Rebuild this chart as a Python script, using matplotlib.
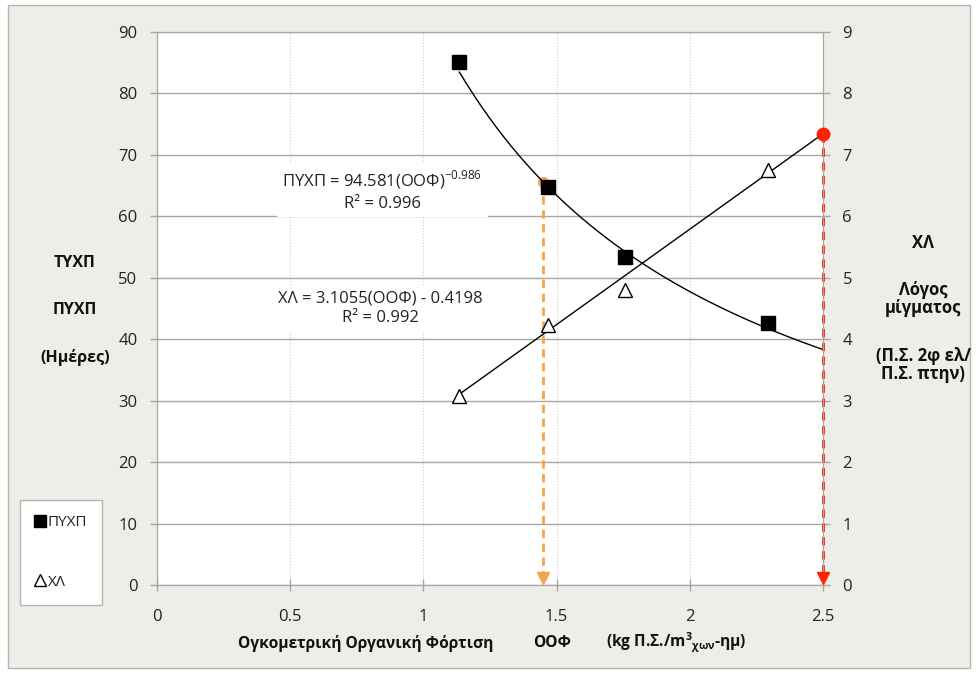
import numpy as np
import matplotlib
matplotlib.use("Agg")
import matplotlib.pyplot as plt
from matplotlib.lines import Line2D
from matplotlib.patches import Rectangle

plt.rcParams['font.family'] = ['Open Sans', 'DejaVu Sans']
plt.rcParams['mathtext.fontset'] = 'custom'
plt.rcParams['mathtext.rm'] = 'Open Sans'
plt.rcParams['mathtext.bf'] = 'Open Sans:bold'

# --- data ---
oof = [1.135, 1.467, 1.757, 2.295]          # ΟΟΦ (kg Π.Σ./m3-ημ)
pyxp = [85.1, 64.8, 53.4, 42.6]             # ΠΥΧΠ (ημέρες), left axis
xl = [3.08, 4.23, 4.80, 6.75]               # ΧΛ, right axis

# trendline coefficients (as printed on the chart)
pow_a, pow_b = 94.581, -0.986
lin_a, lin_b = 3.1055, -0.4198
fit_x0, fit_x1 = 1.135, 2.5

# guide lines
guide_orange_x = 1.45
guide_red_x = 2.5

xticks = [0, 0.5, 1, 1.5, 2, 2.5]
yticks_left = list(range(0, 100, 10))
yticks_right = list(range(0, 10))

grey = '#a6a6a6'
bg = '#eeede7'
txt = '#222222'

fig = plt.figure(figsize=(9.76, 6.74), dpi=100, facecolor='white')
fig.patches.append(Rectangle((8 / 976, 1 - 668 / 674), 962 / 976, 663 / 674,
                             transform=fig.transFigure, facecolor=bg,
                             edgecolor='#b5b5b5', lw=1, zorder=-10))

ax = fig.add_axes([157 / 976, 1 - 585 / 674, 666 / 976, 553 / 674])
ax.set_facecolor('white')
ax.set_xlim(0, 2.5)
ax.set_ylim(0, 90)
ax.set_xticks(xticks)
ax.set_xticklabels(['0', '0.5', '1', '1.5', '2', '2.5'])
ax.set_yticks(yticks_left)
for s in ax.spines.values():
    s.set_color(grey)
ax.tick_params(colors=grey, labelcolor=txt, labelsize=12, length=5, width=1, pad=9)
ax.tick_params(axis='x', direction='inout', length=8, pad=13)
ax.grid(axis='y', color=grey, lw=1, ls='-')
ax.grid(axis='x', color='#cccccc', lw=0.8, ls=':')
ax.set_axisbelow(True)

ax2 = ax.twinx()
ax2.set_ylim(0, 9)
ax2.set_yticks(yticks_right)
for s in ax2.spines.values():
    s.set_color(grey)
ax2.tick_params(colors=grey, labelcolor=txt, labelsize=12, length=5, width=1, pad=9)

# trendlines
xf = np.linspace(fit_x0, fit_x1, 200)
ax.plot(xf, pow_a * xf ** pow_b, color='black', lw=1, zorder=3)
ax2.plot(xf, lin_a * xf + lin_b, color='black', lw=1, zorder=3)

# guide lines
yo = pow_a * guide_orange_x ** pow_b
ax.plot([guide_orange_x, guide_orange_x], [yo, 1.2], color='#f7a24c', lw=2,
        ls=(0, (3, 2)), zorder=2)
ax.plot([guide_orange_x], [yo], 'o', color='#f7a24c', ms=7, zorder=2)
ax.plot([guide_orange_x], [1.2], 'v', color='#f7a24c', ms=8, zorder=2)

yr = lin_a * guide_red_x + lin_b
ax2.plot([guide_red_x, guide_red_x], [yr, 0.12], color='#ff2200', lw=2,
         ls=(0, (3, 2)), zorder=2, clip_on=False)
ax2.plot([guide_red_x], [yr], 'o', color='#ff2200', ms=9, zorder=6, clip_on=False)
ax2.plot([guide_red_x], [0.12], 'v', color='#ff2200', ms=8, zorder=6, clip_on=False)

# data points
ax.plot(oof, pyxp, 's', color='black', ms=10, zorder=5, ls='none')
ax2.plot(oof, xl, '^', mfc='white', mec='black', mew=1, ms=10, zorder=5, ls='none')

# equation labels
box = dict(facecolor='white', edgecolor='none', pad=4)
ax.text(0.845, 64.3, 'ΠΥΧΠ = 94.581(ΟΟΦ)$^{\\mathregular{-0.986}}$\nR² = 0.996',
        ha='center', va='center', fontsize=12, linespacing=1.4, bbox=box,
        zorder=4, color=txt)
ax.text(0.84, 45.0, 'ΧΛ = 3.1055(ΟΟΦ) - 0.4198\nR² = 0.992', ha='center',
        va='center', fontsize=12, linespacing=1.3, bbox=box, zorder=4, color=txt)

# axis titles
lk = dict(ha='center', va='center', fontweight='bold', color='#111111')
fig.text(75 / 976, 1 - 263 / 674, 'ΤΥΧΠ', fontsize=11.5, **lk)
fig.text(75 / 976, 1 - 310 / 674, 'ΠΥΧΠ', fontsize=11.5, **lk)
fig.text(75 / 976, 1 - 358 / 674, '(Ημέρες)', fontsize=11.5, **lk)
fig.text(923 / 976, 1 - 243 / 674, 'ΧΛ', fontsize=12, **lk)
fig.text(923 / 976, 1 - 299 / 674, 'Λόγος\nμίγματος', linespacing=1.05, fontsize=12, **lk)
fig.text(923 / 976, 1 - 365 / 674, '(Π.Σ. 2φ ελ/\nΠ.Σ. πτην)', linespacing=1.05,
         fontsize=12, **lk)
fig.text(366 / 976, 1 - 643 / 674, 'Ογκομετρική Οργανική Φόρτιση', fontsize=11.2, **lk)
fig.text(552 / 976, 1 - 643 / 674, 'ΟΟΦ', fontsize=11.2, **lk)
fig.text(606 / 976, 1 - 643 / 674,
         '(kg Π.Σ./m$^{\\mathbf{3}}$$_{\\mathregular{χων}}$-ημ)',
         ha='left', va='center', fontsize=11.2, fontweight='bold', color='#111111')

# legend
handles = [Line2D([], [], marker='s', color='black', ls='none', ms=9),
           Line2D([], [], marker='^', mfc='white', mec='black', ls='none', ms=9)]
leg = fig.legend(handles, ['ΠΥΧΠ', 'ΧΛ'], loc='lower left',
                 bbox_to_anchor=(20 / 976, 1 - 605 / 674), fontsize=11,
                 labelspacing=2.9, handlelength=0.6, handletextpad=0.2,
                 borderpad=1.0, borderaxespad=0, fancybox=False,
                 edgecolor='#b5b5b5', framealpha=1)
leg.get_frame().set_linewidth(1)
for t in leg.get_texts():
    t.set_color(txt)

fig.savefig('out.png', dpi=100, facecolor=fig.get_facecolor())
